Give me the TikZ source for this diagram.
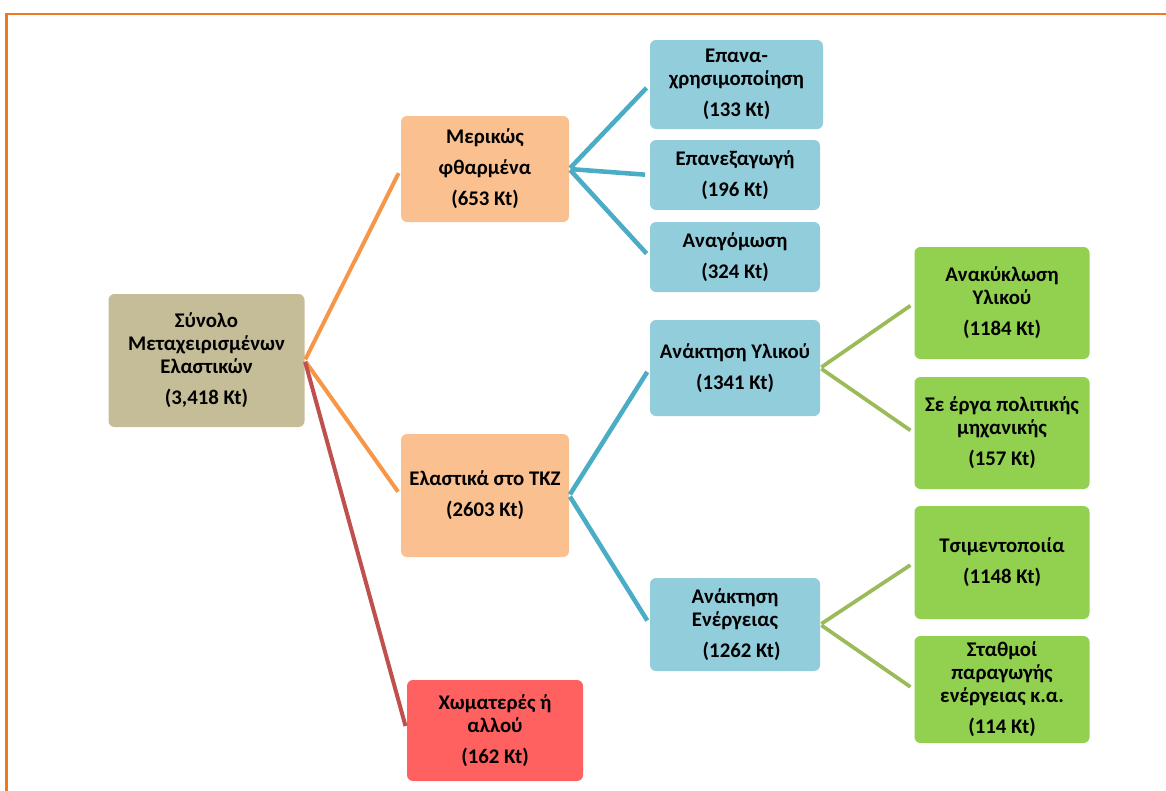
\documentclass[tikz,border=0pt]{standalone}
\usepackage{fontspec}
\setmainfont{Carlito}
\begin{document}
\begin{tikzpicture}[x=0.75pt,y=-0.75pt,
  box/.style={rounded corners=4.5pt,inner sep=0pt,align=center,
    font=\fontsize{15.6pt}{17.25pt}\selectfont\bfseries},
  rootbox/.style={box,fill=rootfill},
  orangebox/.style={box,fill=orangefill},
  redbox/.style={box,fill=redfill},
  bluebox/.style={box,fill=bluefill},
  greenbox/.style={box,fill=greenfill},
  link/.style={line width=3pt,shorten >=3.5pt,shorten <=1pt},
  orangelink/.style={link,draw=orangeline},
  redlink/.style={link,draw=redline},
  bluelink/.style={link,draw=blueline,line width=3.4pt},
  greenlink/.style={link,draw=greenline,line width=2.8pt}]
\definecolor{rootfill}{HTML}{C4BD97}
\definecolor{orangefill}{HTML}{FAC090}
\definecolor{redfill}{HTML}{FF6161}
\definecolor{bluefill}{HTML}{92CDDC}
\definecolor{greenfill}{HTML}{92D050}
\definecolor{orangeline}{HTML}{F79646}
\definecolor{redline}{HTML}{C0504D}
\definecolor{blueline}{HTML}{4BACC6}
\definecolor{greenline}{HTML}{9BBB59}
\definecolor{frameline}{HTML}{F0781E}
\def\gap{6pt}

\useasboundingbox (0,0) rectangle (1166,790);

% frame
\draw[frameline,line width=1.9pt] (6.5,792) -- (6.5,14) -- (1168,14);

% root
\node[rootbox,minimum width=147pt,minimum height=99.75pt] (root) at (206.5,360.5)
  {Σύνολο\\Μεταχειρισμένων\\Ελαστικών\\[\gap](3,418 Kt)};

% second level
\node[orangebox,minimum width=126pt,minimum height=79.5pt] (mer) at (485,169)
  {Μερικώς\\[\gap]φθαρμένα\\[\gap](653 Kt)};
\node[orangebox,minimum width=126pt,minimum height=92.25pt] (ela) at (485,495.5)
  {Ελαστικά στο ΤΚΖ\\[\gap](2603 Kt)};
\node[redbox,minimum width=132pt,minimum height=75.75pt] (xom) at (495,730.5)
  {Χωματερές ή\\αλλού\\[\gap](162 Kt)};

% third level
\node[bluebox,minimum width=129.75pt,minimum height=66.75pt] (epan) at (736.5,84.5)
  {Επανα-\\χρησιμοποίηση\\[\gap](133 Kt)};
\node[bluebox,minimum width=127.5pt,minimum height=52.5pt] (epx) at (735,175)
  {Επανεξαγωγή\\[\gap](196 Kt)};
\node[bluebox,minimum width=127.5pt,minimum height=52.5pt] (ana) at (735,257)
  {Αναγόμωση\\[\gap](324 Kt)};
\node[bluebox,minimum width=127.5pt,minimum height=72pt] (auy) at (735,368)
  {Ανάκτηση Υλικού\\[\gap](1341 Kt)};
\node[bluebox,minimum width=127.5pt,minimum height=69.75pt] (aen) at (735,624.5)
  {Ανάκτηση\\Ενέργειας\\[\gap]\hspace*{10pt}(1262 Kt)};

% fourth level
\node[greenbox,minimum width=131.25pt,minimum height=84pt] (anak) at (1002,303)
  {Ανακύκλωση\\Υλικού\\[\gap](1184 Kt)};
\node[greenbox,minimum width=131.25pt,minimum height=84pt] (se) at (1002,433)
  {Σε έργα πολιτικής\\μηχανικής\\[\gap](157 Kt)};
\node[greenbox,minimum width=131.25pt,minimum height=84.75pt] (tsi) at (1002,562.5)
  {Τσιμεντοποιία\\[\gap](1148 Kt)};
\node[greenbox,minimum width=131.25pt,minimum height=80.25pt] (sta) at (1002,689.5)
  {Σταθμοί\\παραγωγής\\ενέργειας κ.α.\\[\gap](114 Kt)};

% connectors
\draw[orangelink] (root.east) -- (mer.west);
\draw[orangelink] (root.east) -- (ela.west);
\draw[redlink] (root.east) -- (xom.west);

\draw[bluelink] (mer.east) -- (epan.west);
\draw[bluelink] (mer.east) -- (epx.west);
\draw[bluelink] (mer.east) -- (ana.west);
\draw[bluelink] (ela.east) -- (auy.west);
\draw[bluelink] (ela.east) -- (aen.west);

\draw[greenlink] (auy.east) -- (anak.west);
\draw[greenlink] (auy.east) -- (se.west);
\draw[greenlink] (aen.east) -- (tsi.west);
\draw[greenlink] (aen.east) -- (sta.west);
\end{tikzpicture}
\end{document}
